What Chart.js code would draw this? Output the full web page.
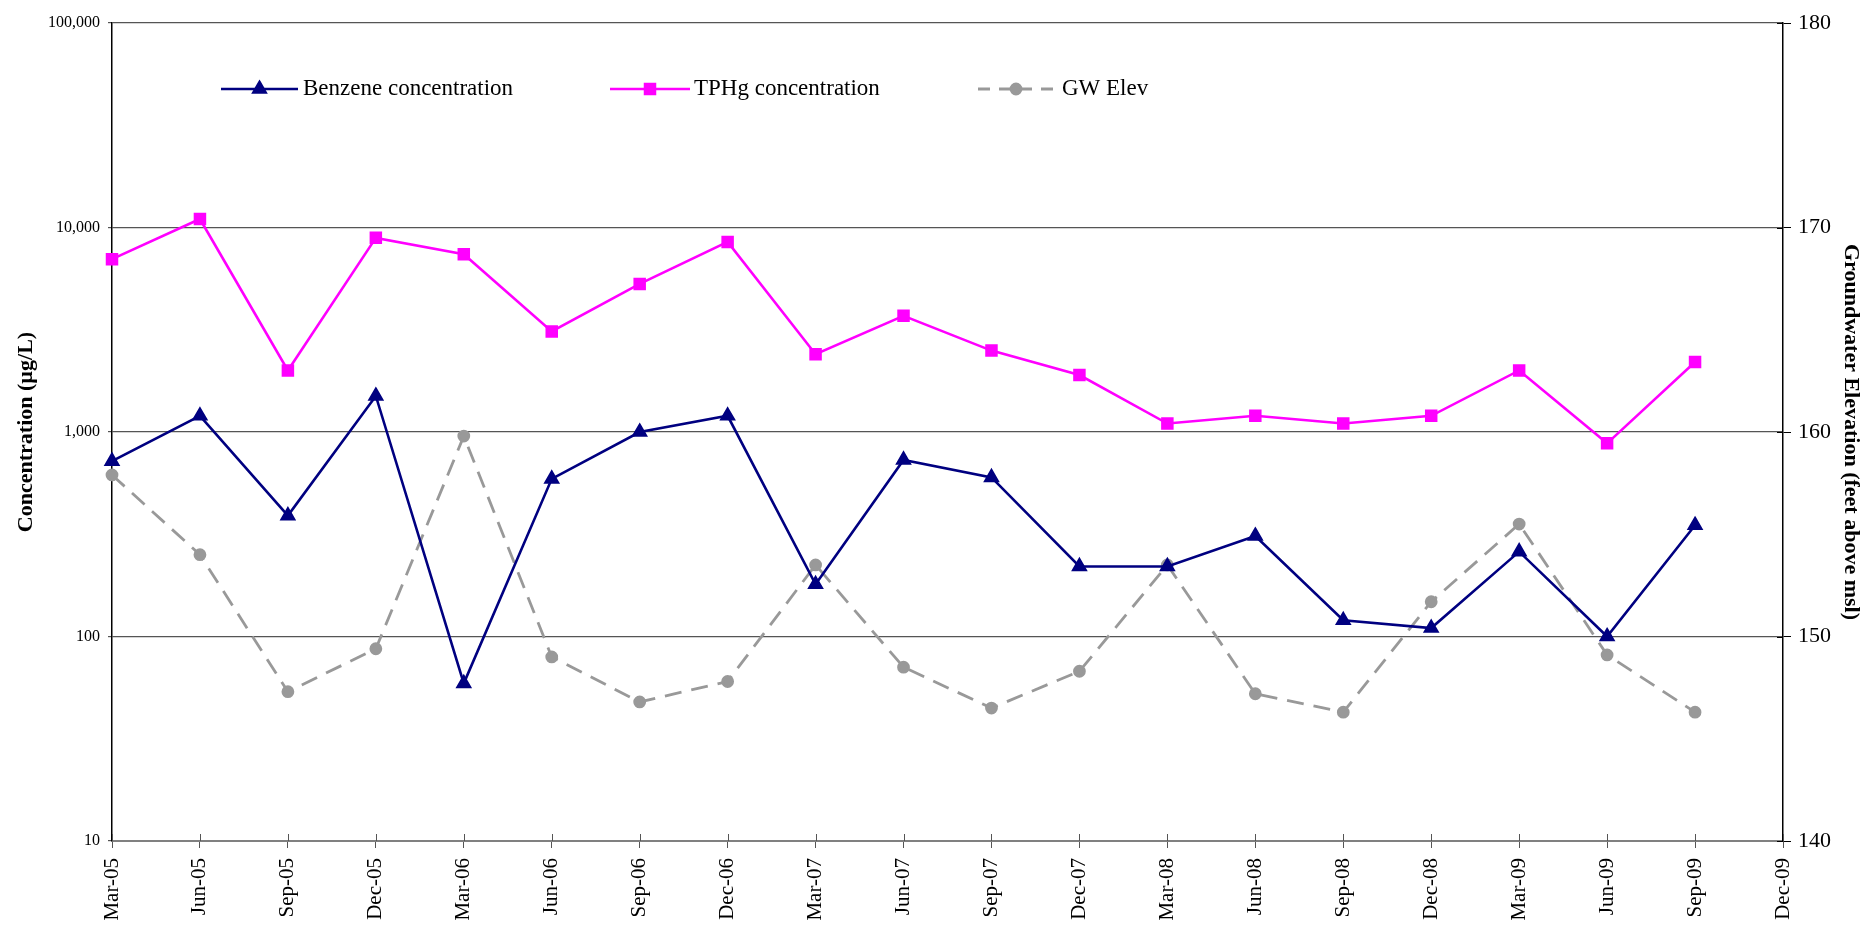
<!DOCTYPE html>
<html>
<head>
<meta charset="utf-8">
<title>Benzene / TPHg / GW Elev</title>
<script src="https://cdn.jsdelivr.net/npm/chart.js@4/dist/chart.umd.min.js"></script>
<style>
  html, body { margin: 0; padding: 0; background: #fff; }
  #wrap { width: 1866px; height: 929px; }
</style>
</head>
<body>
<div id="wrap"><canvas id="gwChart" width="1866" height="929"></canvas></div>
<script>
// sampling dates (last one has no data, axis runs to it)
const sampleDates = [
    'Mar-05', 'Jun-05', 'Sep-05', 'Dec-05', 'Mar-06', 'Jun-06', 'Sep-06',
    'Dec-06', 'Mar-07', 'Jun-07', 'Sep-07', 'Dec-07', 'Mar-08', 'Jun-08',
    'Sep-08', 'Dec-08', 'Mar-09', 'Jun-09', 'Sep-09', 'Dec-09'
];

// ug/L
const benzene = [720, 1200, 390, 1500, 59, 590, 1000, 1200, 180, 730,
    600, 220, 220, 310, 120, 110, 260, 100, 350];
const tphg = [7000, 11000, 2000, 8900, 7400, 3100, 5300, 8500, 2400, 3700,
    2500, 1900, 1100, 1200, 1100, 1200, 2000, 880, 2200];

// feet above msl
const gwElev = [157.9, 154.0, 147.3, 149.4, 159.8, 149.0, 146.8, 147.8, 153.5, 148.5,
    146.5, 148.3, 153.5, 147.2, 146.3, 151.7, 155.5, 149.1, 146.3];

const concTicks = [10, 100, 1000, 10000, 100000];
const elevTicks = [140, 150, 160, 170, 180];

document.addEventListener('DOMContentLoaded', function () {
    Chart.defaults.font.family = '"Liberation Serif", "Times New Roman", serif';
    Chart.defaults.color = '#000';

    // legend sits inside the plot area in the original, so draw it by hand
    const insideLegend = {
        id: 'insideLegend',
        afterDraw(chart) {
            const ctx = chart.ctx;
            const y = 89;
            const slots = [
                { x1: 221, x2: 298, tx: 303 },
                { x1: 610, x2: 690, tx: 694 },
                { x1: 978, x2: 1054, tx: 1062 }
            ];
            ctx.save();
            chart.data.datasets.forEach(function (ds, i) {
                const s = slots[i];
                ctx.strokeStyle = ds.borderColor;
                ctx.lineWidth = ds.borderWidth;
                ctx.setLineDash(ds.borderDash ? [12, 9] : []);
                ctx.beginPath();
                ctx.moveTo(s.x1, y);
                ctx.lineTo(s.x2, y);
                ctx.stroke();
                ctx.setLineDash([]);
                ctx.fillStyle = ds.pointBackgroundColor;
                ctx.strokeStyle = ds.pointBorderColor;
                Chart.helpers.drawPoint(ctx, {
                    pointStyle: ds.pointStyle,
                    radius: ds.pointRadius,
                    rotation: 0,
                    borderWidth: 1
                }, (s.x1 + s.x2) / 2, y);
                ctx.fillStyle = '#000';
                ctx.font = '23px "Liberation Serif", serif';
                ctx.textBaseline = 'middle';
                ctx.textAlign = 'left';
                ctx.fillText(ds.label, s.tx, y);
            });
            ctx.restore();
        }
    };

    // the original's tick marks cross the bottom and right axes
    const crossTicks = {
        id: 'crossTicks',
        afterDatasetsDraw(chart) {
            const ctx = chart.ctx;
            const xs = chart.scales.x;
            const ys = chart.scales.y1;
            ctx.save();
            ctx.lineWidth = 1;
            ctx.strokeStyle = '#555';
            ctx.beginPath();
            xs.ticks.forEach(function (t, i) {
                const px = Math.round(xs.getPixelForTick(i)) + 0.5;
                ctx.moveTo(px, xs.top);
                ctx.lineTo(px, xs.top - 7);
            });
            ctx.stroke();
            ctx.strokeStyle = '#000';
            ctx.beginPath();
            ys.ticks.forEach(function (t, i) {
                const py = Math.round(ys.getPixelForTick(i)) + 0.5;
                ctx.moveTo(ys.left, py);
                ctx.lineTo(ys.left - 6, py);
            });
            ctx.stroke();
            ctx.restore();
        }
    };

    const ctx = document.getElementById('gwChart').getContext('2d');
    new Chart(ctx, {
        type: 'line',
        data: {
            labels: sampleDates,
            datasets: [
                {
                    label: 'Benzene concentration',
                    data: benzene,
                    yAxisID: 'y',
                    borderColor: '#000080',
                    backgroundColor: '#000080',
                    pointBackgroundColor: '#000080',
                    pointBorderColor: '#000080',
                    borderWidth: 2.6,
                    pointStyle: 'triangle',
                    pointRadius: 7,
                    tension: 0
                },
                {
                    label: 'TPHg concentration',
                    data: tphg,
                    yAxisID: 'y',
                    borderColor: '#FF00FF',
                    backgroundColor: '#FF00FF',
                    pointBackgroundColor: '#FF00FF',
                    pointBorderColor: '#FF00FF',
                    borderWidth: 2.6,
                    pointStyle: 'rect',
                    pointRadius: 7,
                    tension: 0
                },
                {
                    label: 'GW Elev',
                    data: gwElev,
                    yAxisID: 'y1',
                    borderColor: '#999999',
                    backgroundColor: '#999999',
                    pointBackgroundColor: '#999999',
                    pointBorderColor: '#999999',
                    borderWidth: 2.8,
                    borderDash: [17, 10],
                    pointStyle: 'circle',
                    pointRadius: 5,
                    tension: 0
                }
            ]
        },
        options: {
            responsive: false,
            animation: false,
            layout: { padding: { top: 23, left: 0, right: 0, bottom: 0 } },
            plugins: {
                legend: { display: false },
                tooltip: { enabled: false }
            },
            scales: {
                x: {
                    type: 'category',
                    offset: false,
                    afterFit: function (axis) { axis.height = 88; },
                    grid: {
                        drawOnChartArea: false,
                        color: '#555',
                        tickLength: 7
                    },
                    border: { color: '#808080', width: 2 },
                    ticks: {
                        minRotation: 90,
                        maxRotation: 90,
                        autoSkip: false,
                        padding: 10,
                        font: { size: 21 }
                    }
                },
                y: {
                    type: 'logarithmic',
                    position: 'left',
                    min: 10,
                    max: 100000,
                    afterBuildTicks: function (axis) {
                        axis.ticks = concTicks.map(function (v) { return { value: v }; });
                    },
                    afterFit: function (axis) { axis.width = 112; },
                    grid: { color: '#555', lineWidth: 1.2, tickLength: 4 },
                    border: { color: '#000', width: 1.5 },
                    ticks: {
                        padding: 8,
                        font: { size: 16 },
                        callback: function (v) { return Number(v).toLocaleString('en-US'); }
                    },
                    title: {
                        display: true,
                        text: 'Concentration (µg/L)',
                        font: { size: 22, weight: 'bold' },
                        padding: { top: 13, bottom: 0 }
                    }
                },
                y1: {
                    type: 'linear',
                    position: 'right',
                    min: 140,
                    max: 180,
                    afterBuildTicks: function (axis) {
                        axis.ticks = elevTicks.map(function (v) { return { value: v }; });
                    },
                    afterFit: function (axis) { axis.width = 83; },
                    grid: { drawOnChartArea: false, color: '#000', tickLength: 8 },
                    border: { color: '#000', width: 1.5 },
                    ticks: {
                        padding: 7,
                        font: { size: 22 }
                    },
                    title: {
                        display: true,
                        text: 'Groundwater Elevation (feet above msl)',
                        font: { size: 22, weight: 'bold' },
                        padding: { top: 2, bottom: 0 }
                    }
                }
            }
        },
        plugins: [insideLegend, crossTicks]
    });
});
</script>
</body>
</html>
